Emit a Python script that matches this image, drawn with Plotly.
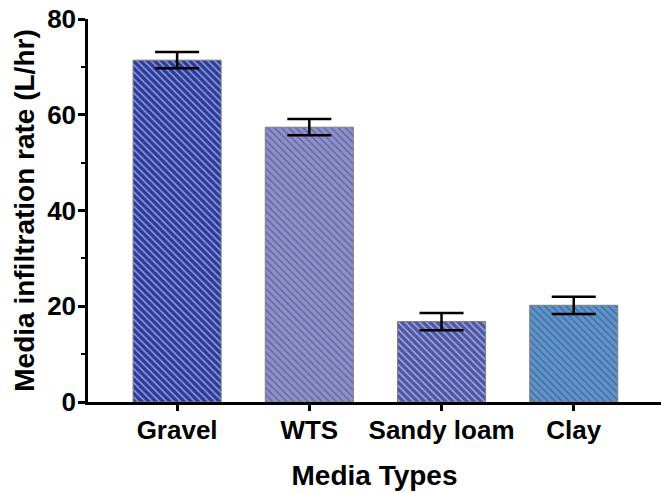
import plotly.graph_objects as go

categories = ["Gravel", "WTS", "Sandy loam", "Clay"]
rates = [71.4, 57.4, 16.8, 20.2]
errors = [1.7, 1.7, 1.8, 1.8]
bar_colors = ["#2B3A9E", "#8C8FD2", "#4B56A8", "#5A95D3"]
y_ticks = [0, 20, 40, 60, 80]

FONT = "Liberation Sans, Arial, sans-serif"

fig = go.Figure()
fig.add_trace(go.Bar(
    x=categories,
    y=rates,
    width=0.666,
    marker=dict(
        color=bar_colors,
        line=dict(color="#7f7f7f", width=1),
        pattern=dict(shape="\\", fgcolor="#7d7d7d", size=5, solidity=0.3),
    ),
    error_y=dict(type="data", array=errors, visible=True,
                 color="black", thickness=2.5, width=22),
))

fig.update_layout(
    width=661, height=493,
    margin=dict(l=88, r=0, t=19, b=91),
    plot_bgcolor="white", paper_bgcolor="white",
    showlegend=False,
    font=dict(family=FONT, color="black"),
)
fig.update_xaxes(
    range=[-0.674, 3.66],
    automargin=False,
    showline=True, linecolor="black", linewidth=2.5,
    ticks="outside", ticklen=6, tickwidth=2.5, tickcolor="black",
    ticklabelstandoff=-3,
    tickfont=dict(family=FONT, size=26, color="black", weight="bold"),
    title=dict(text="<b>Media Types</b>", font=dict(family=FONT, size=28, color="black"), standoff=22),
    showgrid=False, zeroline=False,
)
fig.update_yaxes(
    range=[0, 80],
    automargin=False,
    tickvals=y_ticks,
    showline=True, linecolor="black", linewidth=2.5,
    ticks="outside", ticklen=7, tickwidth=2.5, tickcolor="black",
    ticklabelstandoff=-3,
    minor=dict(dtick=10, ticks="outside", ticklen=4, tickwidth=2, tickcolor="black"),
    tickfont=dict(family=FONT, size=26, color="black", weight="bold"),
    title=dict(text="<b>Media infiltration rate (L/hr)</b>", font=dict(family=FONT, size=28, color="black"), standoff=5),
    showgrid=False, zeroline=False,
)

fig.write_html(
    "out.html",
    config={"displayModeBar": False},
    post_script="document.body.style.margin='0';document.body.style.overflow='hidden';",
)
